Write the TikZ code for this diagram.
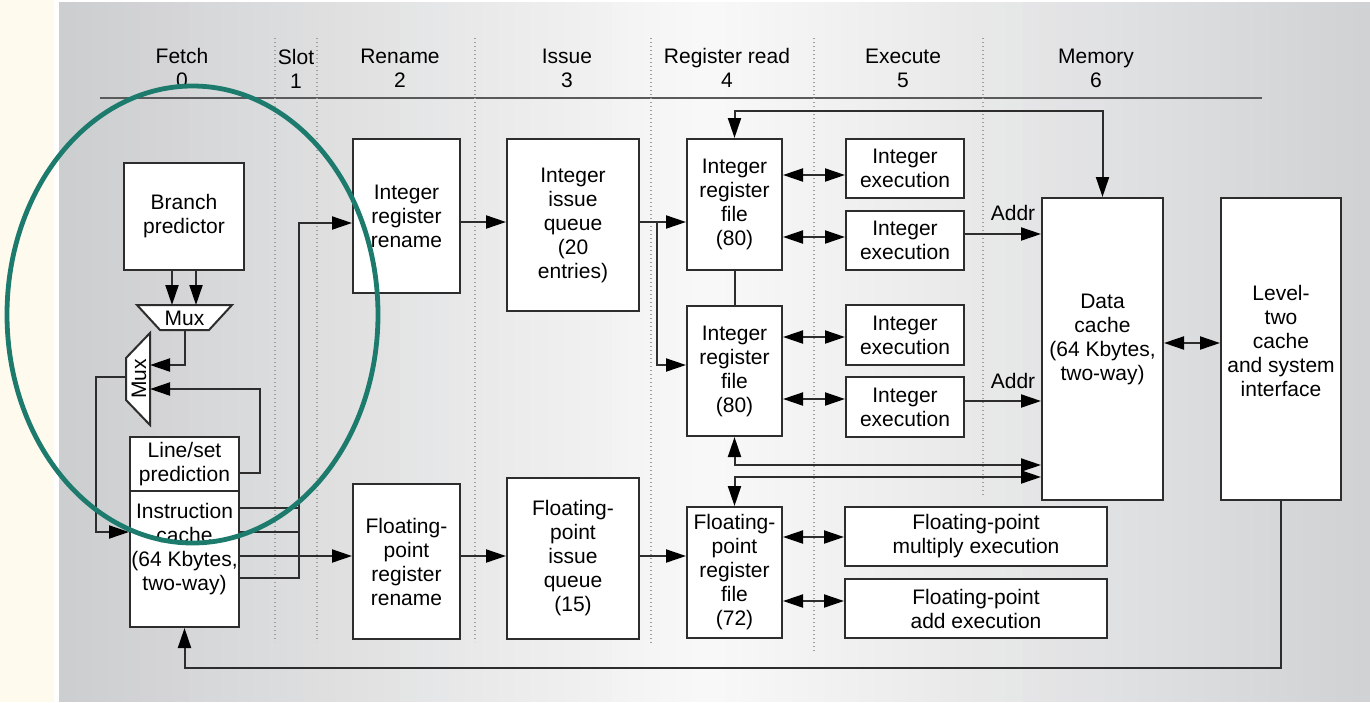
\documentclass[tikz,border=0pt]{standalone}
\usepackage{fontspec}
\setmainfont{Liberation Sans}
\usetikzlibrary{arrows.meta}

\definecolor{cream}{RGB}{255,250,238}
\definecolor{panelL}{RGB}{205,206,208}
\definecolor{panelM}{RGB}{248,248,248}
\definecolor{panelR}{RGB}{209,210,212}
\definecolor{wire}{RGB}{45,45,45}
\definecolor{rulegray}{RGB}{90,90,90}
\definecolor{ring}{RGB}{28,123,108}

\begin{document}
\begin{tikzpicture}[x=0.5pt,y=-0.5pt,
  font=\fontsize{10.5}{12}\selectfont,
  unit/.style={draw=wire, line width=1pt, fill=white, align=center, inner sep=0pt, text=black},
  label/.style={align=center, inner sep=0pt, text=black},
  wireline/.style={draw=wire, line width=1pt},
  arr/.style={wireline, -{Triangle[length=10pt,width=6.5pt,color=black]}},
  biarr/.style={wireline, {Triangle[length=10pt,width=6.5pt,color=black]}-{Triangle[length=10pt,width=6.5pt,color=black]}},
  guide/.style={draw=gray!75, line width=0.6pt, dash pattern=on 0.6pt off 1.4pt},
  muxbody/.style={draw=wire, line width=1pt, fill=white},
]

% page background
\useasboundingbox (0,0) rectangle (1370,702);
\fill[white] (0,0) rectangle (1370,702);
\fill[cream] (0,0) rectangle (54,702);

% panel: grey at both sides, almost white in the middle (drawn in thin strips)
\foreach \i in {0,...,39} {
  \pgfmathsetmacro{\xa}{59+\i*16.25}
  \pgfmathsetmacro{\xb}{\xa+17}
  \pgfmathsetmacro{\p}{100*\i/39}
  \fill[panelM!\p!panelL] (\xa,2) rectangle (\xb,702);
}
\foreach \i in {0,...,39} {
  \pgfmathsetmacro{\xa}{709+\i*16.5}
  \pgfmathsetmacro{\xb}{min(\xa+17,1370)}
  \pgfmathsetmacro{\p}{100*\i/39}
  \fill[panelR!\p!panelM] (\xa,2) rectangle (\xb,702);
}

% pipeline stage headings
\node[label] (sFetch)  at (182,68)  {Fetch\\0};
\node[label] (sSlot)   at (296,69)  {Slot\\1};
\node[label] (sRename) at (400,68)  {Rename\\2};
\node[label] (sIssue)  at (567,68)  {Issue\\3};
\node[label] (sRead)   at (727,68)  {Register read\\4};
\node[label] (sExec)   at (903,68)  {Execute\\5};
\node[label] (sMem)    at (1096,68) {Memory\\6};
\draw[draw=rulegray, line width=1pt] (100,98) -- (1262,98);

% stage boundaries
\draw[guide] (275,38) -- (275,642);
\draw[guide] (317,38) -- (317,642);
\draw[guide] (475,38) -- (475,642);
\draw[guide] (651,38) -- (651,643);
\draw[guide] (814,38) -- (814,653);
\draw[guide] (983,38) -- (983,496);

% horizontal levels used by the wiring
\foreach \y in {111,175,222,234,237,337,343,365,399,401,465,473,477,508,532,537,556,578,601,668}
  \coordinate (h\y) at (0,\y);

% fetch units
\node[unit, minimum width=60pt, minimum height=53.5pt] (bp) at (184,216.5) {Branch\\predictor};
\node[unit, minimum width=54.5pt, minimum height=27pt] (lsp) at (184.5,464) {Line/set\\prediction};
\node[unit, minimum width=54.5pt, minimum height=68pt] (icache) at (184.5,559) {};
\node[label] (ictext) at (184.5,549) {Instruction\\cache\\(64 Kbytes,\\two-way)};

% the two multiplexers
\draw[muxbody] (137,305) -- (232,305) -- (209,330) -- (160,330) -- cycle;
\node[label] (hmux) at (184.5,318) {Mux};
\draw[muxbody] (150,333) -- (150,425) -- (126,400) -- (126,358) -- cycle;
\node[label, rotate=90] (vmux) at (139,379) {Mux};
\coordinate (hmuxL) at (172,305);
\coordinate (hmuxR) at (196,305);
\coordinate (hmuxOut) at (184.5,330);
\coordinate (vmuxIn1) at (150,365);
\coordinate (vmuxIn2) at (150,389);
\coordinate (vmuxOut) at (126,377);

% rename, issue, register files
\node[unit, minimum width=53.5pt, minimum height=77pt] (intren) at (406.5,216) {Integer\\register\\rename};
\node[unit, minimum width=53.5pt, minimum height=77.5pt] (fpren) at (406.5,561.5) {Floating-\\point\\register\\rename};
\node[unit, minimum width=66pt, minimum height=86pt] (intiq) at (573,225) {Integer\\issue\\queue\\(20\\entries)};
\node[unit, minimum width=66pt, minimum height=80.5pt] (fpiq) at (573,558.5) {Floating-\\point\\issue\\queue\\(15)};
\node[unit, minimum width=47.5pt, minimum height=65.5pt] (rf1) at (734.5,204.5) {Integer\\register\\file\\(80)};
\node[unit, minimum width=47.5pt, minimum height=65pt] (rf2) at (734.5,371) {Integer\\register\\file\\(80)};
\node[unit, minimum width=47.5pt, minimum height=65.5pt] (fprf) at (734.5,572.5) {Floating-\\point\\register\\file\\(72)};

% execution units
\node[unit, minimum width=59pt, minimum height=29.5pt] (ex1) at (905,168.5) {Integer\\execution};
\node[unit, minimum width=59pt, minimum height=29.5pt] (ex2) at (905,240.5) {Integer\\execution};
\node[unit, minimum width=59pt, minimum height=30pt] (ex3) at (905,335) {Integer\\execution};
\node[unit, minimum width=59pt, minimum height=30pt] (ex4) at (905,407) {Integer\\execution};
\node[unit, minimum width=131pt, minimum height=29.5pt] (fpmul) at (976,536.5) {Floating-point\\multiply execution};
\node[unit, minimum width=131pt, minimum height=29.5pt] (fpadd) at (976,608.5) {Floating-point\\add execution};

% memory side
\node[unit, minimum width=60.5pt, minimum height=151pt] (dcache) at (1102.5,349) {};
\node[label] (dctext) at (1102.5,339) {Data\\cache\\(64 Kbytes,\\two-way)};
\node[unit, minimum width=60pt, minimum height=151pt] (l2) at (1281,349) {};
\node[label] (l2text) at (1281,341) {Level-\\two\\cache\\and system\\interface};
\node[label] (addr1) at (1013,213) {Addr};
\node[label] (addr2) at (1013,381) {Addr};

% fetch wiring
\draw[arr] (bp.south -| hmuxL) -- (hmuxL);
\draw[arr] (bp.south -| hmuxR) -- (hmuxR);
\draw[arr] (hmuxOut) |- (vmuxIn1);
\draw[arr] (lsp.east |- h473) -- ++(20,0) |- (vmuxIn2);
\draw[arr] (vmuxOut) -- ++(-30,0) |- (icache.west |- h532);
\coordinate (busTop) at (299,223);
\coordinate (busBot) at (299,578);
\draw[arr] (icache.east |- busBot) -- (busBot) -- (busTop) -- (intren.west |- busTop);
\draw[wireline] (icache.east |- h508) -- (busTop |- h508);
\draw[wireline] (icache.east |- h532) -- (busTop |- h532);
\draw[arr] (icache.east |- h556) -- (fpren.west |- h556);

% rename to issue to register read
\draw[arr] (intren.east |- h222) -- (intiq.west |- h222);
\draw[arr] (intiq.east |- h222) -- (rf1.west |- h222);
\coordinate (split) at (657,222);
\draw[arr] (split) |- (rf2.west |- h365);
\draw[arr] (fpren.east |- h556) -- (fpiq.west |- h556);
\draw[arr] (fpiq.east |- h556) -- (fprf.west |- h556);
\draw[wireline] (rf1.south) -- (rf2.north);

% register files to execution units
\draw[biarr] (rf1.east |- h175) -- (ex1.west |- h175);
\draw[biarr] (rf1.east |- h237) -- (ex2.west |- h237);
\draw[biarr] (rf2.east |- h337) -- (ex3.west |- h337);
\draw[biarr] (rf2.east |- h399) -- (ex4.west |- h399);
\draw[biarr] (fprf.east |- h537) -- (fpmul.west |- h537);
\draw[biarr] (fprf.east |- h601) -- (fpadd.west |- h601);

% data cache paths
\draw[arr] (ex2.east |- h234) -- (dcache.west |- h234);
\draw[arr] (ex4.east |- h401) -- (dcache.west |- h401);
\draw[biarr] (rf1.north) -- (rf1.north |- h111) -| (dcache.north);
\draw[biarr] (rf2.south) |- (dcache.west |- h465);
\draw[biarr] (fprf.north) |- (dcache.west |- h477);
\draw[biarr] (dcache.east |- h343) -- (l2.west |- h343);
\draw[arr] (l2.south) -- (l2.south |- h668) -| (icache.south);

% highlight ring round the fetch stage
\draw[ring, line width=2.4pt] (192.5,314.5) ellipse [x radius=92.75pt, y radius=114.25pt];

\end{tikzpicture}
\end{document}
